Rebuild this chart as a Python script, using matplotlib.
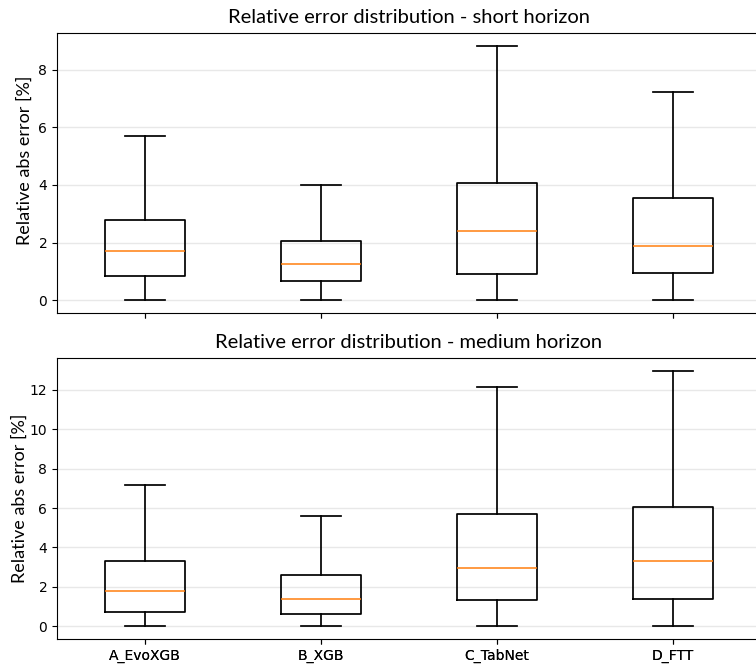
import matplotlib
matplotlib.use("Agg")
import matplotlib.pyplot as plt

models = ["A_EvoXGB", "B_XGB", "C_TabNet", "D_FTT"]

# short horizon box stats
short_low = [0.0, 0.0, 0.0, 0.0]
short_q1 = [0.84, 0.66, 0.90, 0.93]
short_med = [1.71, 1.25, 2.39, 1.87]
short_q3 = [2.80, 2.05, 4.08, 3.56]
short_high = [5.71, 3.99, 8.83, 7.23]

# medium horizon box stats
medium_low = [0.0, 0.0, 0.0, 0.0]
medium_q1 = [0.71, 0.60, 1.32, 1.37]
medium_med = [1.80, 1.37, 2.95, 3.30]
medium_q3 = [3.30, 2.59, 5.69, 6.05]
medium_high = [7.15, 5.62, 12.15, 12.97]

TITLE_FONT = ["Lato", "DejaVu Sans"]


def make_stats(low, q1, med, q3, high):
    return [dict(label=m, whislo=a, q1=b, med=c, q3=d, whishi=e, fliers=[])
            for m, a, b, c, d, e in zip(models, low, q1, med, q3, high)]


def draw(ax, stats, title):
    ax.bxp(stats, widths=0.45, showfliers=False,
           boxprops=dict(color="black", linewidth=1.25),
           whiskerprops=dict(color="black", linewidth=1.25),
           capprops=dict(color="black", linewidth=1.25),
           medianprops=dict(color="#ff7f0e", linewidth=1.1))
    ax.set_title(title, family=TITLE_FONT, fontsize=14.5, pad=7)
    ax.set_ylabel("Relative abs error [%]", family=TITLE_FONT, fontsize=13)
    ax.yaxis.grid(True, color="#e8e8e8", linewidth=1)
    ax.set_axisbelow(True)
    ax.tick_params(labelsize=10)


fig = plt.figure(figsize=(7.56, 6.65), dpi=100)
ax1 = fig.add_axes([57 / 756, 1 - 313 / 665, 704 / 756, 280 / 665])
ax2 = fig.add_axes([57 / 756, 1 - 639 / 665, 704 / 756, 281 / 665], sharex=ax1)

draw(ax1, make_stats(short_low, short_q1, short_med, short_q3, short_high),
     "Relative error distribution - short horizon")
draw(ax2, make_stats(medium_low, medium_q1, medium_med, medium_q3, medium_high),
     "Relative error distribution - medium horizon")
ax1.tick_params(labelbottom=False)
ax1.yaxis.set_label_coords(-0.034, 0.545)
ax2.yaxis.set_label_coords(-0.041, 0.5)

fig.savefig("out.png", dpi=100)
